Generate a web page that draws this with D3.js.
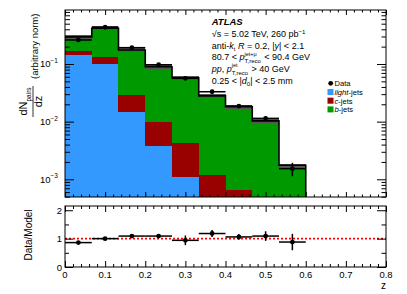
<!DOCTYPE html>
<html>
<head>
<meta charset="utf-8">
<script src="https://cdn.jsdelivr.net/npm/d3@7"></script>
<style>
body { margin: 0; background: #fff; }
svg { font-family: "Liberation Sans", Arial, Helvetica, sans-serif; }
svg text { white-space: pre; }
</style>
</head>
<body>
<svg id="fig" width="407" height="294"></svg>
<script>
// bins in z
const binEdges = [0, 0.0667, 0.1333, 0.2, 0.2667, 0.3333, 0.4, 0.4667, 0.5333, 0.6];
// stacked MC components (per bin)
const lightJets = [0.143, 0.100, 0.0148, 0.00385, 0.0011, 0.0003, 0.0001, 0.00005, 0.00002];
const cJets     = [0.027, 0.031, 0.0141, 0.00585, 0.00318, 0.00087, 0.00054, 0.00025, 0.00008];
const bJets     = [0.125, 0.287, 0.146, 0.0801, 0.0535, 0.0268, 0.0175, 0.0100, 0.00165];
// data
const dataVals = [0.261, 0.434, 0.192, 0.097, 0.0564, 0.033, 0.0186, 0.0114, 0.00153];
const dataErr  = [0.006, 0.008, 0.005, 0.003, 0.003, 0.0015, 0.001, 0.0009, 0.0004];
// ratio panel
const ratioVals = [0.86, 1.0, 1.09, 1.09, 0.94, 1.18, 1.06, 1.09, 0.88];
const ratioErr  = [0.04, 0.04, 0.05, 0.05, 0.17, 0.12, 0.10, 0.17, 0.29];
// axis ticks
const xMajor = [0, 0.1, 0.2, 0.3, 0.4, 0.5, 0.6, 0.7, 0.8];
const xLabels = ['0', '0.1', '0.2', '0.3', '0.4', '0.5', '0.6', '0.7', '0.8'];
const yExp = [-1, -2, -3];
const rMajor = [0, 1, 2];
const rMinor = [0.5, 1.5];

const svg = d3.select('#fig');
const x = d3.scaleLinear().domain([0, 0.8]).range([65, 386]);
const y = d3.scaleLog().domain([4.93e-4, 0.864]).range([197, 10]).clamp(true);
const yr = d3.scaleLinear().domain([0, 2.15]).range([267, 206]);

const colors = {light: '#3399ff', c: '#990000', b: '#009900'};

const bins = lightJets.map((d, i) => ({x0: binEdges[i], x1: binEdges[i + 1], light: d, c: cJets[i], b: bJets[i]}));
const totals = bins.map(d => d.light + d.c + d.b);
const stacked = d3.stack().keys(['light', 'c', 'b'])(bins);

// stacked histogram
svg.append('g').attr('shape-rendering', 'crispEdges')
	.selectAll('g').data(stacked).join('g')
	.attr('fill', s => colors[s.key])
	.selectAll('rect').data(s => s).join('rect')
	.attr('x', d => x(d.data.x0))
	.attr('width', d => x(d.data.x1) - x(d.data.x0))
	.attr('y', d => y(d[1]))
	.attr('height', d => Math.max(0, y(d[0]) - y(d[1])));

// MC uncertainty band
svg.append('g').attr('shape-rendering', 'crispEdges')
	.selectAll('rect').data(bins).join('rect')
	.attr('x', d => x(d.x0))
	.attr('width', d => x(d.x1) - x(d.x0))
	.attr('y', (d, i) => y(totals[i] * 1.07))
	.attr('height', (d, i) => y(totals[i] * 0.93) - y(totals[i] * 1.07))
	.attr('fill', '#555');

// total outline
const pts = [];
bins.forEach((b, i) => { pts.push([x(b.x0), y(totals[i])]); pts.push([x(b.x1), y(totals[i])]); });
pts.push([x(binEdges[binEdges.length - 1]), y.range()[0]]);
svg.append('path').attr('d', d3.line()(pts))
	.attr('fill', 'none').attr('stroke', '#000').attr('stroke-width', 1.6);

function drawPoints(g, vals, errs, sc, lo) {
	vals.forEach((v, i) => {
		const cx = x((binEdges[i] + binEdges[i + 1]) / 2);
		g.append('line').attr('x1', x(binEdges[i])).attr('x2', x(binEdges[i + 1]))
			.attr('y1', sc(v)).attr('y2', sc(v));
		g.append('line').attr('x1', cx).attr('x2', cx)
			.attr('y1', sc(Math.max(v - errs[i], lo))).attr('y2', sc(v + errs[i]));
		g.append('circle').attr('cx', cx).attr('cy', sc(v)).attr('r', 2.4).attr('stroke', 'none').attr('fill', '#000');
	});
}
const gData = svg.append('g').attr('stroke', '#000').attr('stroke-width', 1.5);
drawPoints(gData, dataVals, dataErr, y, 1e-6);

// ratio reference line
svg.append('line').attr('x1', x(0)).attr('x2', x(0.8)).attr('y1', yr(1)).attr('y2', yr(1))
	.attr('stroke', '#ff0000').attr('stroke-width', 1.6).attr('stroke-dasharray', '2,2');
const gRatio = svg.append('g').attr('stroke', '#000').attr('stroke-width', 1.5);
drawPoints(gRatio, ratioVals, ratioErr, yr, 0);

// frames
[[10, 197], [206, 267]].forEach(p => {
	svg.append('rect').attr('x', 65).attr('y', p[0]).attr('width', 321).attr('height', p[1] - p[0])
		.attr('fill', 'none').attr('stroke', '#000').attr('stroke-width', 1);
});

function ticks(axisFn, scale, vals, size, tr) {
	const g = svg.append('g').attr('transform', tr)
		.call(axisFn(scale).tickValues(vals).tickSizeInner(-size).tickSizeOuter(0).tickFormat(''));
	g.select('.domain').remove();
	g.selectAll('line').attr('stroke', '#000');
	return g;
}
const xMinor = d3.range(41).filter(i => i % 5 != 0).map(i => i * 0.02);
const yMinor = y.ticks().filter(v => Math.abs(Math.log10(v) - Math.round(Math.log10(v))) > 1e-6);

// top panel ticks
ticks(d3.axisBottom, x, xMajor, 5, 'translate(0,197)');
ticks(d3.axisBottom, x, xMinor, 2.5, 'translate(0,197)');
ticks(d3.axisTop, x, xMajor, 5, 'translate(0,10)');
ticks(d3.axisTop, x, xMinor, 2.5, 'translate(0,10)');
ticks(d3.axisLeft, y, yExp.map(e => Math.pow(10, e)), 9, 'translate(65,0)');
ticks(d3.axisLeft, y, yMinor, 5, 'translate(65,0)');
ticks(d3.axisRight, y, yExp.map(e => Math.pow(10, e)), 9, 'translate(386,0)');
ticks(d3.axisRight, y, yMinor, 4.5, 'translate(386,0)');

// ratio ticks
ticks(d3.axisBottom, x, xMajor, 6, 'translate(0,267)');
ticks(d3.axisBottom, x, xMinor, 3, 'translate(0,267)');
ticks(d3.axisTop, x, xMajor, 6, 'translate(0,206)');
ticks(d3.axisTop, x, xMinor, 3, 'translate(0,206)');
ticks(d3.axisLeft, yr, rMajor, 8, 'translate(65,0)');
ticks(d3.axisLeft, yr, rMinor, 4, 'translate(65,0)');
ticks(d3.axisRight, yr, rMajor, 9, 'translate(386,0)');
ticks(d3.axisRight, yr, rMinor, 4.5, 'translate(386,0)');

// tick labels
svg.append('g').selectAll('text').data(xMajor).join('text')
	.attr('x', d => x(d)).attr('y', 277.5).attr('text-anchor', 'middle').attr('font-size', 9.5)
	.text((d, i) => xLabels[i]);
svg.append('g').selectAll('text').data(rMajor).join('text')
	.attr('x', 62).attr('y', d => yr(d) + 3.5).attr('text-anchor', 'end').attr('font-size', 9.5)
	.text(d => d);
const yl = svg.append('g').selectAll('text').data(yExp).join('text')
	.attr('x', 58).attr('y', d => y(Math.pow(10, d)) + 3.5).attr('text-anchor', 'end').attr('font-size', 9.5);
yl.append('tspan').text('10');
yl.append('tspan').attr('dy', -4.5).attr('font-size', 6.5).text(d => '\u2212' + (-d));

// axis titles
svg.append('text').attr('x', 386).attr('y', 288.5).attr('text-anchor', 'end').attr('font-size', 10).text('z');
svg.append('text').attr('transform', 'translate(31.5,235) rotate(-90)').attr('text-anchor', 'middle')
	.attr('font-size', 10).text('Data/Model');

const yt = svg.append('g').attr('transform', 'translate(33,117) rotate(-90)');
yt.append('line').attr('x1', 0).attr('x2', 31).attr('y1', 0).attr('y2', 0).attr('stroke', '#000').attr('stroke-width', 0.8);
const num = yt.append('text').attr('x', 15.5).attr('y', -6).attr('text-anchor', 'middle').attr('font-size', 11);
num.append('tspan').text('dN');
num.append('tspan').attr('dy', 3.5).attr('font-size', 6.5).text('pairs');
yt.append('text').attr('x', 15.5).attr('y', 9).attr('text-anchor', 'middle').attr('font-size', 11).text('dz');
yt.append('text').attr('x', 38).attr('y', 5).attr('font-size', 9.5).text('(arbitrary norm)');

// rich text lines (ROOT latex style)
function drawRich(x0, y0, segs, size) {
	let cx = x0;
	segs.forEach(s => {
		if (s.stack) {
			const a = svg.append('text').attr('x', cx).attr('y', y0 - 4.5).attr('font-size', 5.5).text(s.sup);
			const b = svg.append('text').attr('x', cx).attr('y', y0 + 3).attr('font-size', 6).text(s.sub);
			cx += Math.max(a.node().getComputedTextLength(), b.node().getComputedTextLength()) + 1;
		} else {
			const fs = s.sub || s.sup ? size * 0.68 : size;
			const t = svg.append('text').attr('x', cx).attr('y', y0 + (s.sub ? 2.5 : s.sup ? -3.5 : 0))
				.attr('font-size', fs).text(s.t);
			if (s.i) t.attr('font-style', 'italic');
			if (s.bold) t.attr('font-weight', 'bold');
			cx += t.node().getComputedTextLength();
		}
	});
}
const ax = 211.7;
drawRich(ax, 25, [{t: 'ATLAS', i: true, bold: true}], 9.5);
drawRich(ax, 37, [{t: '\u221As = 5.02 TeV, 260 pb'}, {t: '\u22121', sup: true}], 9);
drawRich(ax, 48.5, [{t: 'anti-'}, {t: 'k', i: true}, {t: 't', sub: true}, {t: ' '}, {t: 'R', i: true},
	{t: ' = 0.2, |'}, {t: 'y', i: true}, {t: '| < 2.1'}], 9);
drawRich(ax, 60, [{t: '80.7 < '}, {t: 'p', i: true}, {stack: true, sup: 'jet+\u03BC', sub: 'T,reco'}, {t: ' < 90.4 GeV'}], 9);
drawRich(ax, 71.5, [{t: 'pp', i: true}, {t: ', '}, {t: 'p', i: true}, {stack: true, sup: 'jet', sub: 'T,reco'}, {t: ' > 40 GeV'}], 9);
drawRich(ax, 83.5, [{t: '0.25 < |'}, {t: 'd', i: true}, {t: '0', sub: true}, {t: '| < 2.5 mm'}], 9);

// legend
const legItems = [
	{key: 'light', it: 'light', y: 92},
	{key: 'c', it: 'c', y: 100.7},
	{key: 'b', it: 'b', y: 109.4}
];
svg.append('circle').attr('cx', 330.7).attr('cy', 83.3).attr('r', 2.4).attr('fill', '#000');
drawRich(334.5, 86.1, [{t: 'Data'}], 7.6);
legItems.forEach(d => {
	svg.append('rect').attr('x', 327.5).attr('y', d.y - 3).attr('width', 6).attr('height', 6).attr('fill', colors[d.key]);
	drawRich(334.5, d.y + 2.8, [{t: d.it, i: true}, {t: '-jets'}], 7.6);
});
</script>
</body>
</html>
